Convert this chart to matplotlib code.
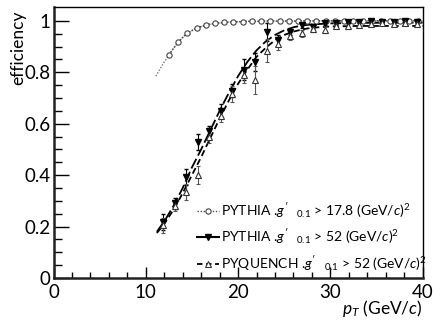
import matplotlib.pyplot as plt
import numpy as np

plt.rcParams["font.family"] = ["Lato", "DejaVu Sans"]
plt.rcParams["mathtext.fontset"] = "custom"
plt.rcParams["mathtext.rm"] = "Lato"
plt.rcParams["mathtext.it"] = "Lato:italic"

# PYTHIA, g' > 17.8 (open circles, dotted fit)
loose_x = [12.5, 13.5, 14.5, 15.5, 16.5, 17.5, 18.5, 19.5, 20.5, 21.5, 22.5, 23.5, 24.5, 25.5,
           26.5, 27.5, 28.5, 29.5, 30.5, 31.5, 32.5, 33.5, 34.5, 35.5, 36.5, 37.5, 38.5, 39.5]
loose_y = [0.869, 0.917, 0.953, 0.972, 0.984, 0.990, 0.994, 0.996, 0.997, 0.998, 0.998, 0.999, 0.999, 0.999,
           0.999, 1.0, 1.0, 1.0, 1.0, 1.0, 1.0, 1.0, 1.0, 1.0, 1.0, 1.0, 1.0, 1.0]
loose_fit_x = [11.1, 11.5, 12.0, 12.5, 13.0, 13.5, 14.0, 14.5, 15.5, 16.5, 17.5, 19.0, 21.0, 25.0, 30.0, 40.0]
loose_fit_y = [0.785, 0.81, 0.84, 0.866, 0.893, 0.915, 0.936, 0.952, 0.971, 0.983, 0.990, 0.995, 0.998, 0.999, 1.0, 1.0]

# triangle bin centres
bins = [11.875, 13.125, 14.375, 15.625, 16.875, 18.125, 19.375, 20.625, 21.875, 23.125, 24.375, 25.625,
        26.875, 28.125, 29.375, 30.625, 31.875, 33.125, 34.375, 35.625, 36.875, 38.125, 39.375]

# PYTHIA, g' > 52 (filled triangles)
pythia_y = [0.218, 0.290, 0.393, 0.529, 0.571, 0.650, 0.728, 0.810, 0.840, 0.957, 0.925, 0.957,
            0.983, 0.977, 0.990, 0.992, 0.996, 0.995, 0.998, 0.997, 0.996, 0.998, 0.997]
pythia_err = [0.03, 0.02, 0.03, 0.03, 0.02, 0.025, 0.025, 0.04, 0.035, 0.035, 0.02, 0.012,
              0.01, 0.01, 0.008, 0.006, 0.005, 0.004, 0.003, 0.003, 0.003, 0.002, 0.002]
pythia_fit_x = [11.2, 12, 13, 14, 15, 16, 17, 18, 19, 20, 21, 22, 23, 24, 25, 26, 27, 28, 30, 33, 40]
pythia_fit_y = [0.18, 0.22, 0.28, 0.35, 0.43, 0.50, 0.575, 0.65, 0.72, 0.785, 0.84, 0.885, 0.92,
                0.945, 0.963, 0.975, 0.982, 0.986, 0.99, 0.992, 0.993]

# PYQUENCH, g' > 52 (open triangles)
pyquench_y = [0.205, 0.280, 0.335, 0.400, 0.550, 0.630, 0.715, 0.790, 0.770, 0.884, 0.908, 0.940,
              0.951, 0.970, 0.966, 0.980, 0.978, 0.985, 0.988, 0.990, 0.988, 0.990, 0.989]
pyquench_err = [0.03, 0.02, 0.03, 0.035, 0.025, 0.025, 0.03, 0.03, 0.055, 0.045, 0.02, 0.015,
                0.015, 0.012, 0.015, 0.008, 0.01, 0.006, 0.005, 0.004, 0.004, 0.003, 0.003]
pyquench_fit_x = [11.2, 12, 13, 14, 15, 16, 17, 18, 19, 20, 21, 22, 23, 24, 25, 26, 27, 28, 30, 33, 40]
pyquench_fit_y = [0.175, 0.21, 0.265, 0.33, 0.40, 0.47, 0.545, 0.62, 0.69, 0.755, 0.81, 0.86, 0.895,
                  0.925, 0.945, 0.958, 0.967, 0.973, 0.978, 0.98, 0.98]

fig = plt.figure(figsize=(4.33, 3.24), dpi=100)
ax = fig.add_axes([0.1236, 0.142, 0.8524, 0.835])

ax.plot(loose_fit_x, loose_fit_y, color="#777777", ls=(0, (1, 1.2)), lw=1.0)
ax.plot(pythia_fit_x, pythia_fit_y, color="black", ls=(0, (6, 2)), lw=1.3)
ax.plot(pyquench_fit_x, pyquench_fit_y, color="black", ls=(0, (3.5, 2)), lw=1.3)

ax.errorbar(loose_x, loose_y, yerr=0.002, fmt="o", ms=3.8, mfc="white", mec="#444444",
            mew=0.8, color="#444444", elinewidth=0.6, ls=(0, (1, 1.2)), lw=1.0)
ax.errorbar(bins, pythia_y, yerr=pythia_err, fmt="v", ms=4, mfc="black", mec="black",
            color="black", elinewidth=0.8, capsize=1.2)
ax.errorbar(bins, pyquench_y, yerr=pyquench_err, fmt="^", ms=4.5, mfc="white", mec="#333333",
            mew=0.8, color="#555555", elinewidth=0.8, capsize=1.2)

l1, = ax.plot([], [], color="#555555", ls=(0, (1, 1.2)), lw=1.0, marker="o", ms=3.8,
              mfc="white", mec="#444444", mew=0.8)
l2, = ax.plot([], [], color="black", ls="-", lw=1.5, marker="v", ms=4, mfc="black")
l3, = ax.plot([], [], color="black", ls=(0, (3, 2)), lw=1.3, marker="^", ms=4,
              mfc="white", mec="#333333", mew=0.8)

labels = [r"PYTHIA .$g'_{\;\;\;\;0.1}$ > 17.8 (GeV/$c$)$^2$",
          r"PYTHIA .$g'_{\;\;\;\;0.1}$ > 52 (GeV/$c$)$^2$",
          r"PYQUENCH .$g'_{\;\;\;\;0.1}$ > 52 (GeV/$c$)$^2$"]
ax.legend([l1, l2, l3], labels, loc="lower left", bbox_to_anchor=(0.389, 0.02), frameon=False,
          fontsize=10, handlelength=1.6, handletextpad=0.15, labelspacing=0.5, borderpad=0,
          borderaxespad=0)

ax.set_xlim(0, 40)
ax.set_ylim(0, 1.052)
ax.set_xticks([0, 10, 20, 30, 40])
ax.set_xticks(np.arange(0, 41, 2), minor=True)
ax.set_yticks([0, 0.2, 0.4, 0.6, 0.8, 1.0])
ax.set_yticklabels(["0", "0.2", "0.4", "0.6", "0.8", "1"])
ax.set_yticks(np.arange(0, 1.05, 0.05), minor=True)
ax.tick_params(axis="both", which="both", direction="in", labelsize=13.5)
ax.tick_params(axis="y", which="major", length=11, width=1, pad=2)
ax.tick_params(axis="y", which="minor", length=6, width=1)
ax.tick_params(axis="x", which="major", length=8, width=1, pad=4)
ax.tick_params(axis="x", which="minor", length=4.5, width=1)

for side in ["left", "bottom"]:
    ax.spines[side].set_linewidth(1.8)
    ax.spines[side].set_color("#222222")
for side in ["top", "right"]:
    ax.spines[side].set_linewidth(1.0)

ax.set_xlabel(r"$p_T$ (GeV/$c$)", fontsize=12.5, loc="right")
ax.xaxis.set_label_coords(1.0, -0.075)
ax.set_ylabel("efficiency", fontsize=12.5, loc="top")
ax.yaxis.set_label_coords(-0.075, 0.99)

fig.savefig("out.png", dpi=100)
